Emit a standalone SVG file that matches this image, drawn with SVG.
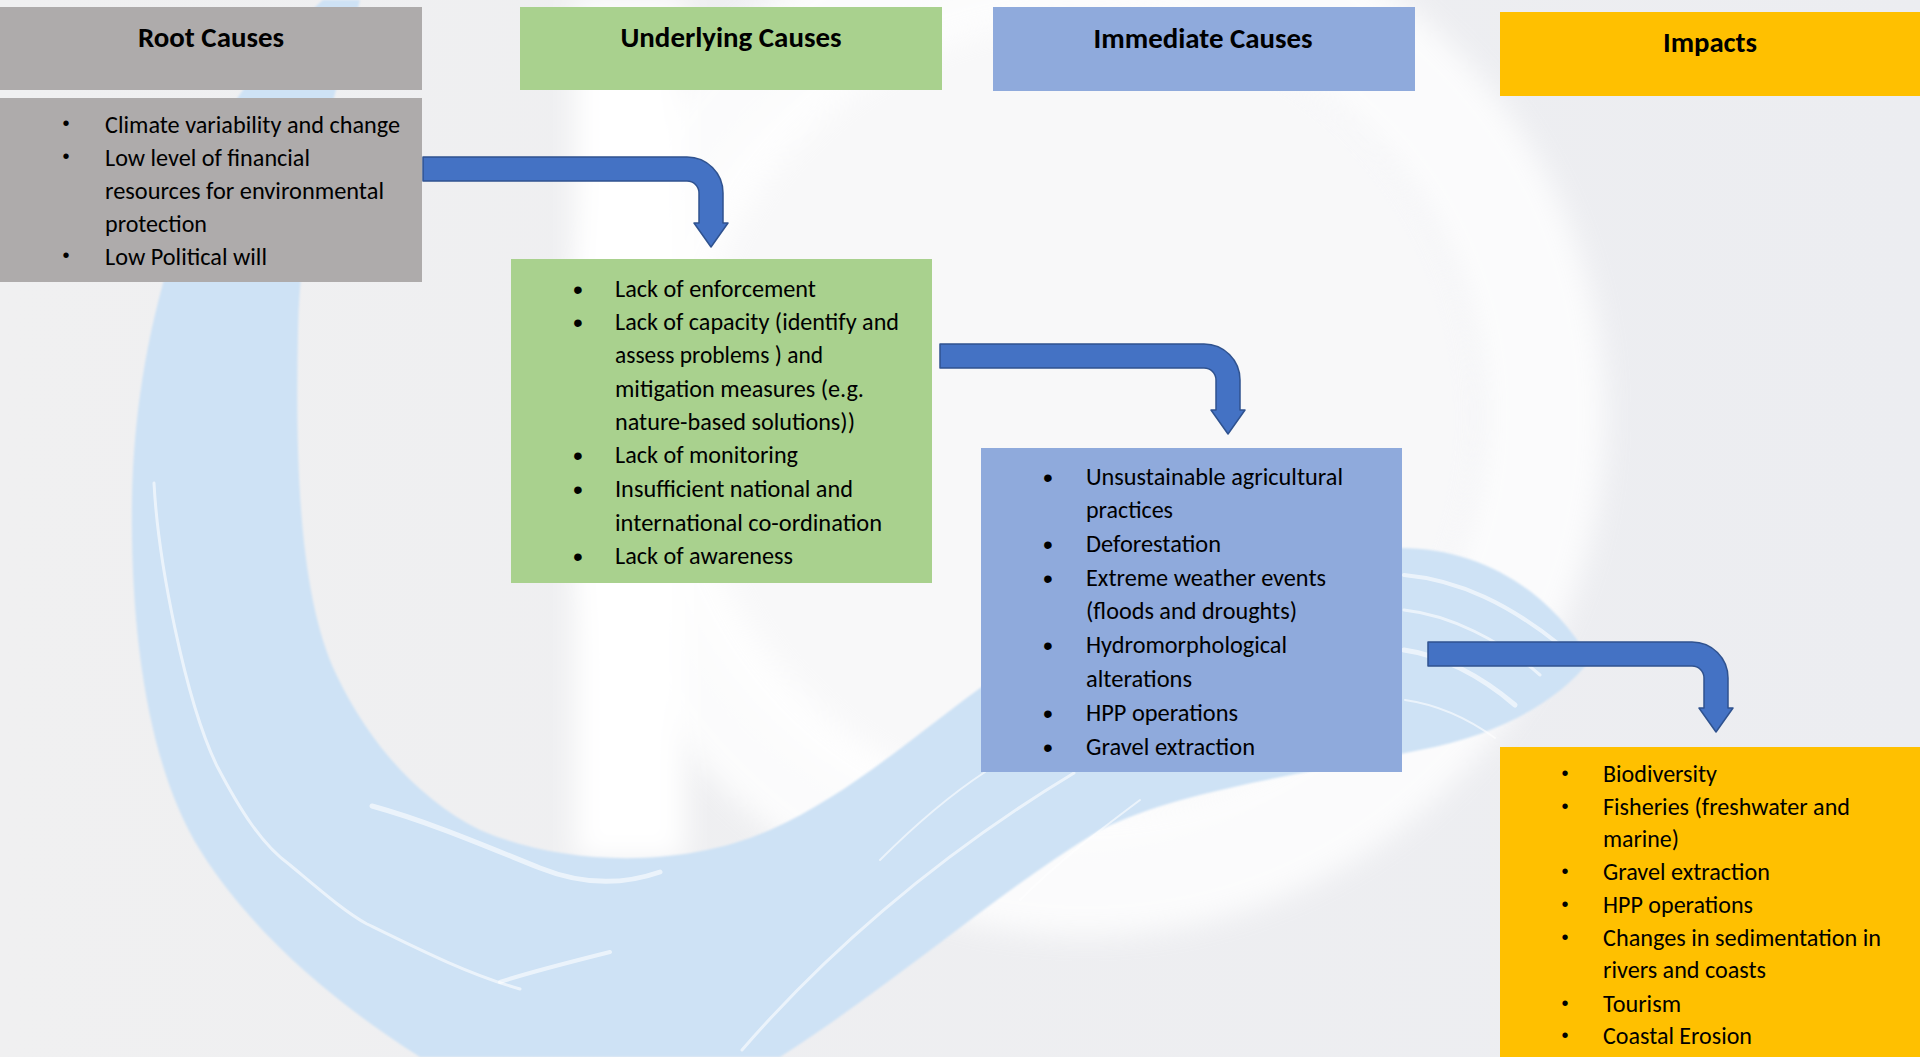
<svg xmlns="http://www.w3.org/2000/svg" xmlns:xlink="http://www.w3.org/1999/xlink" width="1920" height="1057" viewBox="0 0 1920 1057">
  <defs>
    <style>
      .title { font-family: Carlito, Lato, "Liberation Sans", sans-serif; font-size: 28px; font-weight: bold; fill: #000; text-anchor: middle; }
      .item { font-family: Carlito, Lato, "Liberation Sans", sans-serif; font-size: 24px; fill: #000; }
      .dot-s { font-family: "Liberation Sans", sans-serif; font-size: 20px; fill: #000; text-anchor: middle; }
      .dot-l { font-family: "Liberation Sans", sans-serif; font-size: 28px; fill: #000; text-anchor: middle; }
      .root { fill: #aeabab; }
      .underlying { fill: #a9d18e; }
      .immediate { fill: #8faadc; }
      .impacts { fill: #ffc000; }
      .arrow { fill: #4472c4; stroke: #2f528f; stroke-width: 1.5; stroke-linejoin: round; }
      .streak { fill: none; stroke: #ffffff; stroke-linecap: round; opacity: 0.6; }
    </style>
    <filter id="soft" x="-20%" y="-20%" width="140%" height="140%">
      <feGaussianBlur stdDeviation="14"/>
    </filter>
    <filter id="soft-small" x="-5%" y="-5%" width="110%" height="110%">
      <feGaussianBlur stdDeviation="0.8"/>
    </filter>
    <linearGradient id="bg-grad" x1="0" y1="0" x2="1" y2="0">
      <stop offset="0" stop-color="#f0f0f1"/>
      <stop offset="1" stop-color="#ecedf1"/>
    </linearGradient>
    <!-- bent arrow: horizontal shaft, rounded corner, downward head; origin at top-left of the shaft -->
    <path id="bent-arrow" d="M0,0 H264 A36,36 0 0 1 300,36 V66 H305 L288,90 L271,66 H276 V36 A12,12 0 0 0 264,24 H0 Z"/>
  </defs>

  <!-- backdrop -->
  <g id="background">
    <rect x="0" y="0" width="1920" height="1057" fill="url(#bg-grad)"/>
    <circle cx="1060" cy="420" r="420" fill="#f8f8f9" filter="url(#soft)"/>
    <circle cx="1085" cy="415" r="458" fill="none" stroke="#ffffff" stroke-width="125" opacity="0.8" filter="url(#soft)"/>
    <rect x="575" y="0" width="110" height="860" fill="#ffffff" filter="url(#soft)"/>
    <!-- brush swirl -->
    <path fill="#cee2f5" filter="url(#soft-small)" d="M323,0 L360,0 C345,60 300,200 298,330 C295,470 300,600 337,676 C370,745 420,800 480,830 C560,865 680,870 770,830 C860,790 930,720 1020,660 C1120,595 1260,550 1400,548 C1480,548 1550,590 1590,660 C1560,700 1500,735 1420,750 C1300,775 1180,790 1100,830 C1000,890 900,980 780,1057 L420,1057 C330,1000 250,930 200,850 C150,770 130,640 132,500 C134,380 160,250 230,110 C260,60 300,20 323,0 Z"/>
    <path class="streak" stroke-width="3" d="M154,483 C158,560 185,700 217,766 C240,810 262,845 290,865 C320,890 345,912 367,924 C420,950 470,975 520,989"/>
    <path class="streak" stroke-width="5" d="M372,806 C430,822 490,848 540,868 C580,884 620,886 660,872"/>
    <path class="streak" stroke-width="4" d="M500,982 C530,972 570,962 610,952"/>
    <path class="streak" stroke-width="3" d="M742,1050 C820,960 930,860 1074,773"/>
    <path class="streak" stroke-width="2" d="M880,860 C910,830 950,795 985,772"/>
    <path class="streak" stroke-width="2" d="M1020,900 C1060,860 1100,830 1140,800"/>
    <path class="streak" stroke-width="4" d="M1404,575 C1460,580 1510,605 1560,645"/>
    <path class="streak" stroke-width="3" d="M1404,610 C1450,615 1500,640 1540,675"/>
    <path class="streak" stroke-width="5" d="M1404,650 C1440,655 1480,675 1515,705"/>
    <path class="streak" stroke-width="2" d="M1405,700 C1440,705 1470,720 1495,738"/>
  </g>

  <!-- Root Causes -->
  <g id="root-causes">
    <rect class="root" x="0" y="7" width="422" height="83"/>
    <text class="title" x="211" y="47" textLength="146" lengthAdjust="spacingAndGlyphs">Root Causes</text>
    <rect class="root" x="0" y="98" width="422" height="184"/>
    <text class="dot-s" x="66" y="130">•</text>
    <text class="item" x="105" y="133" textLength="295" lengthAdjust="spacingAndGlyphs">Climate variability and change</text>
    <text class="dot-s" x="66" y="163">•</text>
    <text class="item" x="105" y="166" textLength="205" lengthAdjust="spacingAndGlyphs">Low level of financial</text>
    <text class="item" x="105" y="199" textLength="279" lengthAdjust="spacingAndGlyphs">resources for environmental</text>
    <text class="item" x="105" y="232" textLength="102" lengthAdjust="spacingAndGlyphs">protection</text>
    <text class="dot-s" x="66" y="262">•</text>
    <text class="item" x="105" y="265" textLength="162" lengthAdjust="spacingAndGlyphs">Low Political will</text>
  </g>

  <!-- Underlying Causes -->
  <g id="underlying-causes">
    <rect class="underlying" x="520" y="7" width="422" height="83"/>
    <text class="title" x="731" y="47" textLength="221" lengthAdjust="spacingAndGlyphs">Underlying Causes</text>
    <rect class="underlying" x="511" y="259" width="421" height="324"/>
    <text class="dot-l" x="578" y="299">•</text>
    <text class="item" x="615" y="297" textLength="201" lengthAdjust="spacingAndGlyphs">Lack of enforcement</text>
    <text class="dot-l" x="578" y="332">•</text>
    <text class="item" x="615" y="330" textLength="284" lengthAdjust="spacingAndGlyphs">Lack of capacity (identify and</text>
    <text class="item" x="615" y="363" textLength="208" lengthAdjust="spacingAndGlyphs">assess problems ) and</text>
    <text class="item" x="615" y="397" textLength="249" lengthAdjust="spacingAndGlyphs">mitigation measures (e.g.</text>
    <text class="item" x="615" y="430" textLength="240" lengthAdjust="spacingAndGlyphs">nature-based solutions))</text>
    <text class="dot-l" x="578" y="465">•</text>
    <text class="item" x="615" y="463" textLength="183" lengthAdjust="spacingAndGlyphs">Lack of monitoring</text>
    <text class="dot-l" x="578" y="499">•</text>
    <text class="item" x="615" y="497" textLength="238" lengthAdjust="spacingAndGlyphs">Insufficient national and</text>
    <text class="item" x="615" y="531" textLength="267" lengthAdjust="spacingAndGlyphs">international co-ordination</text>
    <text class="dot-l" x="578" y="566">•</text>
    <text class="item" x="615" y="564" textLength="178" lengthAdjust="spacingAndGlyphs">Lack of awareness</text>
  </g>

  <!-- Immediate Causes -->
  <g id="immediate-causes">
    <rect class="immediate" x="993" y="7" width="422" height="84"/>
    <text class="title" x="1203" y="48" textLength="219" lengthAdjust="spacingAndGlyphs">Immediate Causes</text>
    <rect class="immediate" x="981" y="448" width="421" height="324"/>
    <text class="dot-l" x="1048" y="487">•</text>
    <text class="item" x="1086" y="485" textLength="257" lengthAdjust="spacingAndGlyphs">Unsustainable agricultural</text>
    <text class="item" x="1086" y="518" textLength="87" lengthAdjust="spacingAndGlyphs">practices</text>
    <text class="dot-l" x="1048" y="554">•</text>
    <text class="item" x="1086" y="552" textLength="135" lengthAdjust="spacingAndGlyphs">Deforestation</text>
    <text class="dot-l" x="1048" y="588">•</text>
    <text class="item" x="1086" y="586" textLength="240" lengthAdjust="spacingAndGlyphs">Extreme weather events</text>
    <text class="item" x="1086" y="619" textLength="211" lengthAdjust="spacingAndGlyphs">(floods and droughts)</text>
    <text class="dot-l" x="1048" y="655">•</text>
    <text class="item" x="1086" y="653" textLength="201" lengthAdjust="spacingAndGlyphs">Hydromorphological</text>
    <text class="item" x="1086" y="687" textLength="106" lengthAdjust="spacingAndGlyphs">alterations</text>
    <text class="dot-l" x="1048" y="723">•</text>
    <text class="item" x="1086" y="721" textLength="152" lengthAdjust="spacingAndGlyphs">HPP operations</text>
    <text class="dot-l" x="1048" y="757">•</text>
    <text class="item" x="1086" y="755" textLength="169" lengthAdjust="spacingAndGlyphs">Gravel extraction</text>
  </g>

  <!-- Impacts -->
  <g id="impacts">
    <rect class="impacts" x="1500" y="12" width="420" height="84"/>
    <text class="title" x="1710" y="52" textLength="94" lengthAdjust="spacingAndGlyphs">Impacts</text>
    <rect class="impacts" x="1500" y="747" width="420" height="310"/>
    <text class="dot-s" x="1565" y="780">•</text>
    <text class="item" x="1603" y="782" textLength="114" lengthAdjust="spacingAndGlyphs">Biodiversity</text>
    <text class="dot-s" x="1565" y="813">•</text>
    <text class="item" x="1603" y="815" textLength="247" lengthAdjust="spacingAndGlyphs">Fisheries (freshwater and</text>
    <text class="item" x="1603" y="847" textLength="76" lengthAdjust="spacingAndGlyphs">marine)</text>
    <text class="dot-s" x="1565" y="878">•</text>
    <text class="item" x="1603" y="880" textLength="167" lengthAdjust="spacingAndGlyphs">Gravel extraction</text>
    <text class="dot-s" x="1565" y="911">•</text>
    <text class="item" x="1603" y="913" textLength="150" lengthAdjust="spacingAndGlyphs">HPP operations</text>
    <text class="dot-s" x="1565" y="944">•</text>
    <text class="item" x="1603" y="946" textLength="278" lengthAdjust="spacingAndGlyphs">Changes in sedimentation in</text>
    <text class="item" x="1603" y="978" textLength="163" lengthAdjust="spacingAndGlyphs">rivers and coasts</text>
    <text class="dot-s" x="1565" y="1010">•</text>
    <text class="item" x="1603" y="1012" textLength="78" lengthAdjust="spacingAndGlyphs">Tourism</text>
    <text class="dot-s" x="1565" y="1042">•</text>
    <text class="item" x="1603" y="1044" textLength="149" lengthAdjust="spacingAndGlyphs">Coastal Erosion</text>
  </g>

  <!-- connectors between the stages -->
  <g id="connectors">
    <use xlink:href="#bent-arrow" class="arrow" transform="translate(423,157)"/>
    <use xlink:href="#bent-arrow" class="arrow" transform="translate(940,344)"/>
    <use xlink:href="#bent-arrow" class="arrow" transform="translate(1428,642)"/>
  </g>
</svg>
